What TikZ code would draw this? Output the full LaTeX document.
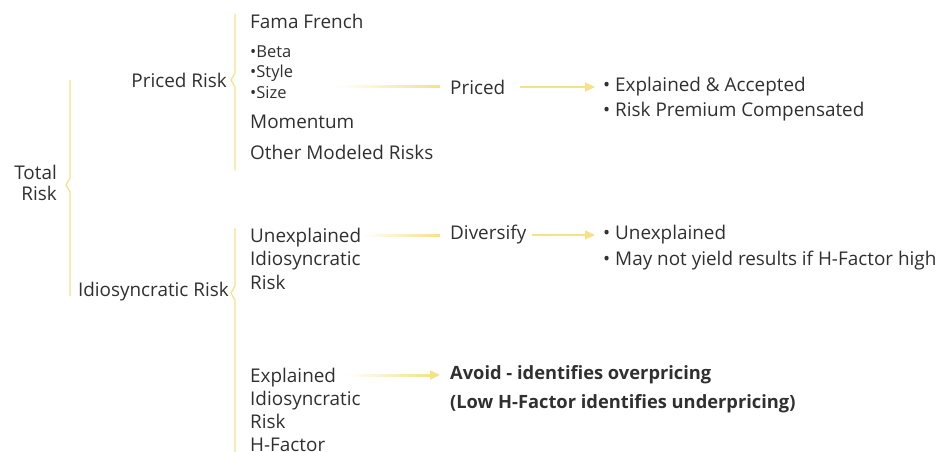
\documentclass[tikz,border=0pt]{standalone}
\usepackage{fontspec}
\setmainfont{Open Sans}
\usetikzlibrary{arrows.meta,calc}
\definecolor{ly}{HTML}{F6E08A}
\definecolor{tx}{HTML}{303030}
\tikzset{
  lbl/.style={inner sep=0pt, text=tx, font=\fontsize{18.9}{23.5}\selectfont, align=left},
  sml/.style={inner sep=0pt, text=tx, font=\fontsize{16.5}{20.5}\selectfont, align=left},
  bld/.style={inner sep=0pt, text=tx, font=\fontsize{18.3}{23}\selectfont\bfseries, align=left},
  brace/.style={draw=ly, line width=1.3pt},
  arr/.style={draw=ly, line width=2pt, -{Triangle[length=10pt,width=9pt]}},
  fade/.style={left color=white, right color=ly},
}
\begin{document}
\begin{tikzpicture}[x=1pt,y=-1pt]
\useasboundingbox (0,0) rectangle (951,452);
% left level
\node[lbl, align=right, anchor=east, font=\fontsize{18.9}{21}\selectfont] (total) at (57,183) {Total\\Risk};
\draw[brace] (70,80) -- (70,178) -- (66,185) -- (70,192) -- (70,296);
\node[lbl, anchor=east] (priced) at (227,80) {Priced Risk};
\node[lbl, anchor=east] (idio) at (229,292) {Idiosyncratic Risk};
\draw[brace] (235,14) -- (235,73) -- (231,80) -- (235,87) -- (235,170);
\draw[brace] (235,228) -- (235,286) -- (231,293) -- (235,300) -- (235,452);
% priced items
\node[lbl, anchor=west] (ff) at (250,21) {Fama French};
\node[sml, anchor=west] (bss) at (250,72) {•Beta\\•Style\\•Size};
\node[lbl, anchor=west] (mom) at (250,122) {Momentum};
\node[lbl, anchor=west] (oth) at (250,152) {Other Modeled Risks};
\node[lbl, anchor=west] (pr) at (450,87) {Priced};
\node[lbl, anchor=west, font=\fontsize{18.9}{25}\selectfont] (prres) at (603,99.5) {• Explained \& Accepted\\• Risk Premium Compensated};
\coordinate (g1) at (338,87);
\shade[fade] ($(g1)+(0,-1)$) rectangle ($(pr.west)+(-10,1)$);
\draw[arr] ([xshift=15pt]pr.east) -- ([xshift=-8pt]pr.east -| prres.west);
% unexplained
\node[lbl, anchor=west] (unex) at (250,258.5) {Unexplained\\Idiosyncratic\\Risk};
\node[lbl, anchor=west] (div) at (450,235) {Diversify};
\node[lbl, anchor=west, font=\fontsize{18.9}{26}\selectfont] (divres) at (603,248) {• Unexplained\\• May not yield results if H-Factor high};
\coordinate (g2) at (362,235);
\shade[fade] ($(g2)+(0,-1)$) rectangle ($(div.west)+(-10,1)$);
\draw[arr] ([xshift=6pt]div.east) -- ([xshift=-8pt]div.east -| divres.west);
% explained
\node[lbl, anchor=west, font=\fontsize{18.9}{23}\selectfont] (ex) at (250,409.5) {Explained\\Idiosyncratic\\Risk\\H-Factor};
\node[bld, anchor=west] (av1) at (450,375) {Avoid - identifies overpricing};
\node[bld, anchor=west] (av2) at (450,404) {(Low H-Factor identifies underpricing)};
\coordinate (g3) at (345,375);
\coordinate (g3e) at ($(av1.west)+(-10,0)$);
\shade[fade] ($(g3)+(0,-1)$) rectangle ($(g3e)+(-8,1)$);
\draw[arr] ($(g3e)+(-10,0)$) -- (g3e);
\end{tikzpicture}
\end{document}
